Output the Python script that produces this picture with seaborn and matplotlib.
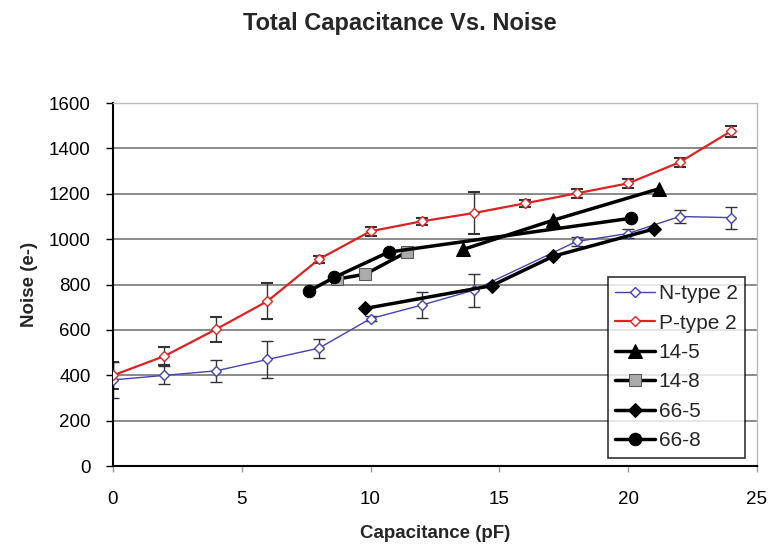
import matplotlib
matplotlib.use("Agg")
import matplotlib.pyplot as plt
import seaborn as sns
import pandas as pd

# ---- data ----
n_x = [0, 2, 4, 6, 8, 10, 12, 14, 18, 20, 22, 24]
n_y = [380, 400, 420, 470, 520, 650, 710, 775, 990, 1025, 1100, 1095]
n_err = [80, 40, 48, 80, 42, 12, 59, 73, 20, 20, 30, 48]

p_x = [0, 2, 4, 6, 8, 10, 12, 14, 16, 18, 20, 22, 24]
p_y = [400, 485, 603, 727, 912, 1035, 1079, 1115, 1158, 1202, 1246, 1339, 1476]
p_err = [60, 40, 55, 80, 15, 20, 15, 92, 15, 20, 20, 20, 25]

s145_x = [13.6, 17.1, 21.2]
s145_y = [955, 1084, 1222]

s148_x = [8.7, 9.8, 11.4]
s148_y = [824, 846, 943]

s665_x = [9.8, 14.7, 17.1, 21.0]
s665_y = [695, 795, 925, 1045]

s668_x = [7.6, 8.6, 10.7, 20.1]
s668_y = [771, 832, 943, 1092]

x_ticks = [0, 5, 10, 15, 20, 25]
y_ticks = [0, 200, 400, 600, 800, 1000, 1200, 1400, 1600]

sns.set_style("white")
plt.rcParams['font.family'] = ['Liberation Sans', 'DejaVu Sans']

fig = plt.figure(figsize=(7.77, 5.51), dpi=100)
ax = fig.add_axes([0.1454, 0.154, 0.8286, 0.659])

for yv in y_ticks[1:]:
    ax.axhline(yv, color='#777777', lw=1.2, zorder=0)

# error bars
ax.errorbar(n_x, n_y, yerr=n_err, fmt='none', ecolor='#333333', elinewidth=1, capsize=4, capthick=1, zorder=2)
ax.errorbar(p_x, p_y, yerr=p_err, fmt='none', ecolor='#333333', elinewidth=1, capsize=4, capthick=1.5, zorder=2)

series = [
    ("N-type 2", n_x, n_y, dict(color='#4444aa', lw=1, marker='D', ms=5, mfc='white', mec='#4444aa', mew=1)),
    ("P-type 2", p_x, p_y, dict(color='#dd2222', lw=1.6, marker='D', ms=5, mfc='white', mec='#dd2222', mew=1)),
    ("14-5", s145_x, s145_y, dict(color='black', lw=2.5, marker='^', ms=10, mfc='black', mec='black')),
    ("14-8", s148_x, s148_y, dict(color='black', lw=2.5, marker='s', ms=9, mfc='#aaaaaa', mec='#555555')),
    ("66-5", s665_x, s665_y, dict(color='black', lw=2.5, marker='D', ms=7, mfc='black', mec='black')),
    ("66-8", s668_x, s668_y, dict(color='black', lw=2.5, marker='o', ms=9, mfc='black', mec='black')),
]
for name, xs, ys, kw in series:
    df = pd.DataFrame({'x': xs, 'y': ys})
    sns.lineplot(data=df, x='x', y='y', ax=ax, label=name, zorder=3, **kw)

ax.set_xlim(0, 25)
ax.set_ylim(0, 1600)
ax.set_xticks(x_ticks)
ax.set_yticks(y_ticks)
ax.tick_params(axis='both', labelsize=13.5, direction='out', length=5, width=1, colors='black', left=True, bottom=True)
ax.tick_params(axis='y', pad=11)
ax.tick_params(axis='x', pad=14, length=4, color='#999999')
for s in ['left', 'bottom']:
    ax.spines[s].set_color('black')
    ax.spines[s].set_linewidth(1.5)
for s in ['top', 'right']:
    ax.spines[s].set_color('#bbbbbb')
    ax.spines[s].set_linewidth(1)

ax.set_xlabel("Capacitance (pF)", fontsize=13.5, fontweight='bold', labelpad=12)
ax.set_ylabel("Noise (e-)", fontsize=13.5, fontweight='bold', labelpad=8)
fig.text(0.515, 0.958, "Total Capacitance Vs. Noise", ha='center', va='center', fontsize=17, fontweight='bold')

leg = ax.legend(loc='lower right', bbox_to_anchor=(0.988, 0.012), fontsize=15, frameon=True, fancybox=False,
                edgecolor='black', handlelength=1.9, handletextpad=0.2, borderpad=0.35, labelspacing=0.5,
                borderaxespad=0.2)
leg.get_frame().set_linewidth(1.2)

fig.savefig("out.png", dpi=100)
